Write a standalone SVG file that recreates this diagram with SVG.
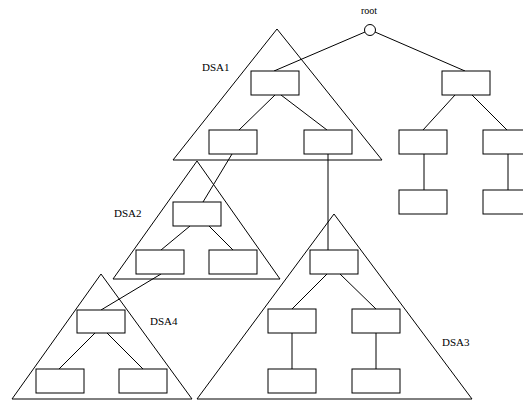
<svg xmlns="http://www.w3.org/2000/svg" width="523" height="402" viewBox="0 0 523 402">
<style>
.box{fill:#fff;stroke:#000;stroke-width:1}
.tri{fill:none;stroke:#000;stroke-width:1}
.edge{stroke:#000;stroke-width:1;fill:none}
.lbl{font-family:"Liberation Serif","Times New Roman",serif;font-size:11px;fill:#000}
</style>
<rect width="523" height="402" fill="#fff"/>
<g id="regions">
<g id="dsa1"><polygon class="tri" points="277,29 173,160 382,160"/><text class="lbl" x="202" y="71">DSA1</text></g>
<g id="dsa2"><polygon class="tri" points="197,161 113,279 280,279"/><text class="lbl" x="114" y="217">DSA2</text></g>
<g id="dsa3"><polygon class="tri" points="334,214 197,399 472,399"/><text class="lbl" x="442" y="346">DSA3</text></g>
<g id="dsa4"><polygon class="tri" points="101,274 12,399 192,399"/><text class="lbl" x="150" y="325">DSA4</text></g>
</g>
<g id="connectors">
<line class="edge" x1="365" y1="32" x2="274" y2="71"/>
<line class="edge" x1="375" y1="32" x2="465" y2="71"/>
<line class="edge" x1="275" y1="95" x2="239" y2="130"/>
<line class="edge" x1="281" y1="95" x2="327" y2="130"/>
<line class="edge" x1="455" y1="95" x2="423" y2="130"/>
<line class="edge" x1="472" y1="95" x2="507" y2="130"/>
<line class="edge" x1="424" y1="154" x2="424" y2="190"/>
<line class="edge" x1="508" y1="154" x2="508" y2="190"/>
<line class="edge" x1="232" y1="154" x2="203" y2="202"/>
<line class="edge" x1="328" y1="154" x2="328" y2="250"/>
<line class="edge" x1="190" y1="226" x2="161" y2="250"/>
<line class="edge" x1="209" y1="226" x2="233" y2="250"/>
<line class="edge" x1="161" y1="274" x2="101" y2="310"/>
<line class="edge" x1="95" y1="333" x2="59" y2="369"/>
<line class="edge" x1="107" y1="333" x2="143" y2="369"/>
<line class="edge" x1="327" y1="274" x2="292" y2="309"/>
<line class="edge" x1="340" y1="274" x2="376" y2="309"/>
<line class="edge" x1="292" y1="333" x2="292" y2="369"/>
<line class="edge" x1="376" y1="333" x2="376" y2="369"/>
</g>
<g id="root"><circle class="box" cx="370" cy="30" r="5.5"/><text class="lbl" x="369" y="14" text-anchor="middle" style="font-size:10px">root</text></g>
<g id="nA"><rect class="box" x="251" y="71" width="48" height="24"/></g>
<g id="nB"><rect class="box" x="442" y="71" width="48" height="24"/></g>
<g id="nC"><rect class="box" x="209" y="130" width="48" height="24"/></g>
<g id="nD"><rect class="box" x="304" y="130" width="48" height="24"/></g>
<g id="nE"><rect class="box" x="399" y="130" width="48" height="24"/></g>
<g id="nF"><rect class="box" x="483" y="130" width="48" height="24"/></g>
<g id="nE2"><rect class="box" x="399" y="190" width="48" height="24"/></g>
<g id="nF2"><rect class="box" x="483" y="190" width="48" height="24"/></g>
<g id="nJ"><rect class="box" x="173" y="202" width="48" height="24"/></g>
<g id="nK"><rect class="box" x="136" y="250" width="48" height="24"/></g>
<g id="nL"><rect class="box" x="209" y="250" width="48" height="24"/></g>
<g id="nM"><rect class="box" x="77" y="310" width="48" height="23"/></g>
<g id="nN"><rect class="box" x="36" y="369" width="48" height="24"/></g>
<g id="nO"><rect class="box" x="119" y="369" width="48" height="24"/></g>
<g id="nG"><rect class="box" x="310" y="250" width="48" height="24"/></g>
<g id="nH"><rect class="box" x="268" y="309" width="48" height="24"/></g>
<g id="nI"><rect class="box" x="352" y="309" width="48" height="24"/></g>
<g id="nH2"><rect class="box" x="268" y="369" width="48" height="24"/></g>
<g id="nI2"><rect class="box" x="352" y="369" width="48" height="24"/></g>
</svg>
